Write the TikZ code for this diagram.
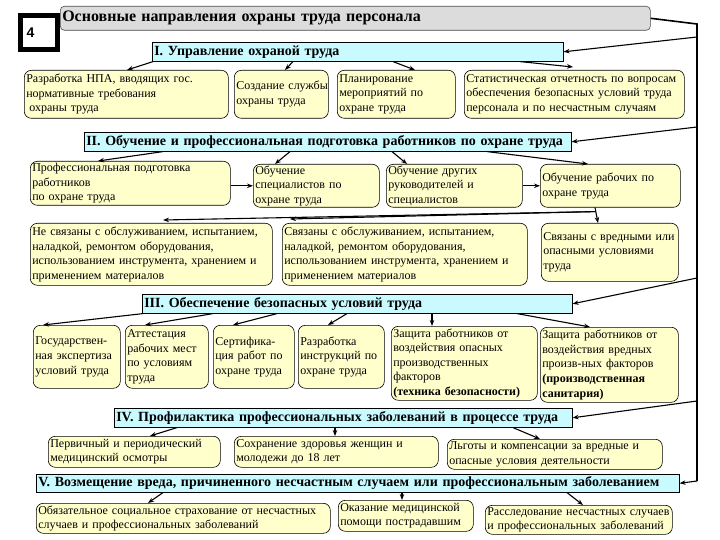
\documentclass[tikz,border=0pt]{standalone}
\usepackage{fontspec}
\setmainfont{Liberation Serif}
\newfontfamily\sansfnt{Liberation Sans}
\usetikzlibrary{arrows.meta,calc}
\definecolor{yfill}{RGB}{255,255,204}
\definecolor{cfill}{RGB}{200,250,255}
\definecolor{gfill}{RGB}{220,220,220}
\newcommand\mkbox[7]{%
  \pgfmathsetmacro\bw{#5-#3}\pgfmathsetmacro\bh{#6-#4}\pgfmathsetmacro\tw{#5-#3-4}%
  \node[#1, minimum width=\bw pt, minimum height=\bh pt, text width=\tw pt, anchor=north west] (#2) at (#3,#4) {#7};}
\tikzset{
  ybox/.style={draw=black, line width=0.6pt, fill=yfill, rounded corners=7pt, inner xsep=2pt, inner ysep=0pt, align=left, font=\fontsize{12}{14.6}\selectfont},
  hbox/.style={draw=black, line width=0.6pt, fill=cfill, inner xsep=2pt, inner ysep=0pt, align=left, font=\bfseries\fontsize{14}{16}\selectfont},
  tbox/.style={draw=black!70, line width=0.6pt, fill=gfill, rounded corners=4pt, inner xsep=2pt, inner ysep=0pt, align=left, font=\bfseries\fontsize{16}{18}\selectfont},
  arr/.style={-{Stealth[length=6pt,width=4.5pt]}, line width=1.1pt},
  link/.style={line width=1.6pt},
}
\begin{document}
\begin{tikzpicture}[x=1pt,y=-1pt]
\fill[white] (0,0) rectangle (720,540);
\useasboundingbox (0,0) rectangle (720,540);
% title and number
\mkbox{tbox}{t}{60}{6}{650}{30}{\mbox{Основные направления охраны труда персонала}}
\node[draw, line width=5pt, fill=white, minimum width=37pt, minimum height=34pt, text width=25pt, inner xsep=6pt, align=left, font=\sansfnt\bfseries\fontsize{14}{16}\selectfont] (four) at (39,32.5) {4};
% section I
\mkbox{hbox}{h1}{152}{42}{563}{61}{\mbox{I. Управление охраной труда}}
\mkbox{ybox}{a1}{24}{70}{228}{118}{Разработка НПА, вводящих гос.\\ нормативные требования\\ \hspace*{3pt}охраны труда}
\mkbox{ybox}{a2}{234}{70}{328}{118}{\mbox{Создание службы}\\ охраны труда}
\mkbox{ybox}{a3}{337}{70}{455}{118}{Планирование\\ мероприятий по\\ охране труда}
\mkbox{ybox}{a4}{464}{70}{684}{118}{Статистическая отчетность по вопросам\\ обеспечения безопасных условий труда\\ персонала и по несчастным случаям}
% section II
\mkbox{hbox}{h2}{84}{132}{571}{151}{\mbox{II. Обучение и профессиональная подготовка работников по охране труда}}
\mkbox{ybox}{b1}{30}{161}{230}{205}{Профессиональная подготовка\\ работников\\ по охране труда}
\mkbox{ybox}{b2}{253}{164}{379}{207}{Обучение\\ специалистов по\\ охране труда}
\mkbox{ybox}{b3}{386}{164}{522}{207}{Обучение других\\ руководителей и\\ специалистов}
\mkbox{ybox}{b4}{540}{164}{680}{207}{Обучение рабочих по\\ охране труда}
\mkbox{ybox}{c1}{30}{223}{272}{285}{Не связаны с обслуживанием, испытанием,\\ наладкой, ремонтом оборудования,\\ использованием инструмента, хранением и\\ применением материалов}
\mkbox{ybox}{c2}{282}{223}{527}{285}{Связаны с обслуживанием, испытанием,\\ наладкой, ремонтом оборудования,\\ использованием инструмента, хранением и\\ применением материалов}
\mkbox{ybox}{c3}{541}{223}{678}{281}{Связаны с вредными или\\ опасными условиями\\ труда}
% section III
\mkbox{hbox}{h3}{142}{294}{572}{313}{\mbox{III. Обеспечение безопасных условий труда}}
\mkbox{ybox}{d1}{33}{325}{120}{388}{Государствен-\\ ная экспертиза\\ условий труда}
\mkbox{ybox}{d2}{125}{325}{208}{388}{Аттестация\\ рабочих мест\\ по условиям\\ труда}
\mkbox{ybox}{d3}{213}{325}{294}{388}{Сертифика-\\ ция работ по\\ охране труда}
\mkbox{ybox}{d4}{298}{325}{384}{388}{Разработка\\ инструкций по\\ охране труда}
\mkbox{ybox}{d5}{391}{326}{537}{400}{Защита работников от\\ воздействия опасных\\ производственных\\ факторов\\ \textbf{(техника безопасности)}}
\mkbox{ybox}{d6}{540}{327}{678}{402}{Защита работников от\\ воздействия вредных\\ произв-ных факторов\\ \textbf{(производственная}\\ \textbf{санитария)}}
% section IV
\mkbox{hbox}{h4}{114}{408}{572}{427}{\mbox{IV. Профилактика профессиональных заболеваний в процессе труда}}
\mkbox{ybox}{e1}{48}{436}{220}{467}{Первичный и периодический\\ медицинский осмотры}
\mkbox{ybox}{e2}{234}{436}{438}{467}{Сохранение здоровья женщин и\\ молодежи до 18 лет}
\mkbox{ybox}{e3}{447}{439}{662}{469}{Льготы и компенсации за вредные и\\ опасные условия деятельности}
% section V
\mkbox{hbox}{h5}{36}{474}{679}{492}{\mbox{V. Возмещение вреда, причиненного несчастным случаем или профессиональным заболеванием}}
\mkbox{ybox}{f1}{36}{503}{330}{533}{Обязательное социальное страхование от несчастных\\ случаев и профессиональных заболеваний}
\mkbox{ybox}{f2}{338}{500}{473}{531}{Оказание медицинской\\ помощи пострадавшим}
\mkbox{ybox}{f3}{485}{505}{672}{534}{Расследование несчастных случаев\\ и профессиональных заболеваний}
% right-hand spine
\coordinate (r0) at (697,24);
\coordinate (r1) at (697,37);
\coordinate (r2) at (697,127);
\coordinate (r3) at (697,278);
\coordinate (r4) at (697,401);
\coordinate (r5) at (697,481);
\draw[link] (t.east) -- (r0) -- (r5);
\draw[arr] (r1) -- (h1.east);
\draw[arr] (r2) -- (h2.east);
\draw[arr] (r3) -- (h3.east);
\draw[arr] (r4) -- (h4.east);
\draw[arr] (r5) -- (h5.east);
% section I arrows
\draw[arr] ($(h1.south west)+(1,0)$) -- ($(a1.north west)+(103,0)$);
\draw[arr] ($(h1.south west)+(141,0)$) -- ($(a2.north west)+(51,0)$);
\draw[arr] ($(h1.south west)+(241,0)$) -- ($(a3.north west)+(78,0)$);
\draw[arr] ($(h1.south west)+(368,0)$) -- ($(a4.north west)+(109,-3)$);
% section II arrows
\draw[arr] ($(h2.south west)+(79,0)$) -- ($(b1.north west)+(68,0)$);
\draw[arr] ($(h2.south west)+(206,0)$) -- ($(b2.north west)+(22,0)$);
\draw[arr] ($(h2.south west)+(308,0)$) -- ($(b3.north west)+(21,0)$);
\draw[arr] ($(h2.south west)+(403,0)$) -- ($(b4.north west)+(48,0)$);
\draw[arr] (b1.east |- b2.west) -- (b2.west);
\draw[arr] (b3.east) -- (b4.west);
\coordinate (bsplit) at ($(b4.south west)+(55,4)$);
\draw[arr] ($(b4.south west)+(55,0)$) -- ($(c3.north west)+(57,0)$);
\draw[arr] (bsplit) -- ($(c1.north west)+(133,-3)$);
\draw[arr] (bsplit) -- ($(c2.north west)+(8,-4)$);
% section III arrows
\draw[arr] ($(h3.south west)+(1,0)$) -- ($(d1.north west)+(10,0)$);
\draw[arr] ($(h3.south west)+(71,0)$) -- ($(d2.north west)+(20,0)$);
\draw[arr] ($(h3.south west)+(135,0)$) -- ($(d3.north west)+(20,0)$);
\draw[arr] ($(h3.south west)+(205,0)$) -- ($(d4.north west)+(30,0)$);
\draw[arr] ($(h3.south west)+(290,0)$) -- ($(d5.north west)+(41,0)$);
\draw[arr] ($(h3.south west)+(375,0)$) -- ($(d6.north west)+(50,0)$);
% section IV arrows
\draw[arr] ($(h4.south west)+(63,0)$) -- ($(e1.north west)+(102,0)$);
\draw[arr] ($(h4.south west)+(221,0)$) -- ($(e2.north west)+(101,0)$);
\draw[arr] ($(h4.south west)+(399,0)$) -- ($(e3.north west)+(93,0)$);
% section V arrows
\draw[arr] ($(h5.south west)+(127,0)$) -- ($(f1.north west)+(112,0)$);
\draw[arr] ($(h5.south west)+(366,0)$) -- ($(f2.north west)+(64,0)$);
\draw[arr] ($(h5.south west)+(531,0)$) -- ($(f3.north west)+(98,0)$);
\end{tikzpicture}
\end{document}
